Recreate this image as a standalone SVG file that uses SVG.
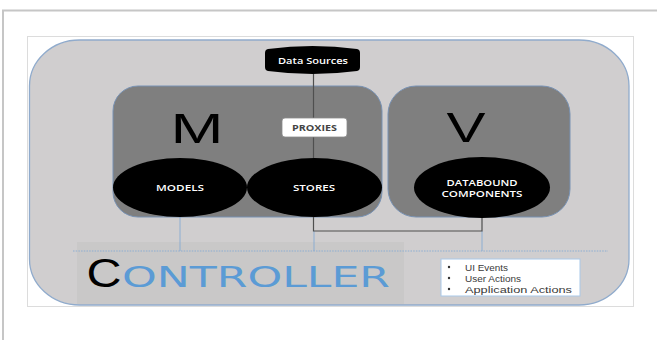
<svg xmlns="http://www.w3.org/2000/svg" width="657" height="340" viewBox="0 0 657 340">
  <style>
    .frame { fill: none; stroke: #c6c6c6; stroke-width: 2; }
    .panel { fill: #7f7f7f; stroke: #7892b4; stroke-width: 1; }
    .blob { fill: #000; }
    .big { font-family: "Liberation Sans", "DejaVu Sans", sans-serif; font-weight: 400; fill: #000; text-anchor: middle; }
    .lbl { font-family: "Open Sans", "Liberation Sans", sans-serif; font-weight: 600; fill: #fff; text-anchor: middle; font-size: 8px; }
    .wire { fill: none; stroke: #4f4f4f; stroke-width: 1.2; }
    .tap { fill: none; stroke: #86aad3; stroke-width: 0.9; }
    .bullet { font-family: "Liberation Sans", "DejaVu Sans", sans-serif; font-size: 9.5px; fill: #3a3a3a; }
  </style>

  <!-- page frame -->
  <rect width="657" height="340" fill="#fff"/>
  <path class="frame" d="M3,340 V10.5 H657"/>

  <!-- picture area -->
  <rect x="27.5" y="36.5" width="606" height="270" fill="#fff" stroke="#dcdcdc" stroke-width="1"/>

  <!-- outer rounded container -->
  <rect id="container" x="29.5" y="40" width="599.5" height="265" rx="50" ry="46" fill="#d0cecf" stroke="#90abcc" stroke-width="1.3"/>

  <!-- controller band -->
  <g id="controller">
    <rect x="77" y="242" width="327" height="62" fill="#c9c8c8"/>
    <text x="104" y="287" class="big" font-size="41" textLength="35" lengthAdjust="spacingAndGlyphs">C</text>
    <text x="122" y="287" font-family="DejaVu Sans, Liberation Sans, sans-serif" font-size="29" fill="#5b9bd5" textLength="268" lengthAdjust="spacingAndGlyphs">ONTROLLER</text>
  </g>

  <!-- connectors -->
  <g id="connectors">
    <path class="tap" d="M180,217 V251 M314,231 V251 M482,231 V251"/>
    <path d="M73,251 H608" fill="none" stroke="#86aad3" stroke-width="0.9" stroke-dasharray="1.5,1.2"/>
  </g>

  <!-- M panel -->
  <g id="m-panel">
    <rect class="panel" x="113" y="86" width="269" height="131" rx="25"/>
    <text x="197" y="143" class="big" font-size="43" textLength="53" lengthAdjust="spacingAndGlyphs">M</text>
  </g>

  <!-- V panel -->
  <g id="v-panel">
    <rect class="panel" x="388" y="86" width="182" height="131" rx="28"/>
    <text x="466" y="142" class="big" font-size="43" textLength="39" lengthAdjust="spacingAndGlyphs">V</text>
  </g>

  <!-- store wiring -->
  <g id="wiring">
    <path class="wire" d="M313.5,72 V231 H482 V217"/>
  </g>

  <g id="models">
    <ellipse class="blob" cx="180" cy="187.5" rx="67" ry="29.5"/>
    <text x="180" y="191" class="lbl" textLength="48" lengthAdjust="spacingAndGlyphs">MODELS</text>
  </g>

  <g id="stores">
    <ellipse class="blob" cx="314.5" cy="187.5" rx="67.5" ry="29.5"/>
    <text x="314" y="191" class="lbl" textLength="42" lengthAdjust="spacingAndGlyphs">STORES</text>
  </g>

  <g id="databound">
    <ellipse class="blob" cx="482" cy="187.5" rx="68" ry="30.5"/>
    <text x="482" y="186" class="lbl" textLength="71" lengthAdjust="spacingAndGlyphs">DATABOUND</text>
    <text x="482" y="197" class="lbl" textLength="81" lengthAdjust="spacingAndGlyphs">COMPONENTS</text>
  </g>

  <g id="proxies">
    <rect x="282" y="118" width="65" height="19" rx="3" fill="#fff" stroke="#8c8c8c" stroke-width="0.8"/>
    <text x="314.5" y="131" font-family="Open Sans, Liberation Sans, sans-serif" font-weight="700" font-size="8" fill="#444" text-anchor="middle" textLength="45" lengthAdjust="spacingAndGlyphs">PROXIES</text>
  </g>

  <g id="data-sources">
    <path d="M268,49 Q312.5,43 357,49 Q360,49.5 360,53 V67 Q360,70.5 357,71 Q312.5,77 268,71 Q265,70.5 265,67 V53 Q265,49.5 268,49 Z" fill="#000"/>
    <text x="313" y="64" class="lbl" font-weight="400" font-size="8.5" textLength="70" lengthAdjust="spacingAndGlyphs">Data Sources</text>
  </g>

  <g id="actions">
    <rect x="441" y="259" width="139" height="37" fill="#fff" stroke="#a9c8e8" stroke-width="1"/>
    <circle cx="449" cy="267" r="1.2" fill="#333"/>
    <circle cx="449" cy="278" r="1.2" fill="#333"/>
    <circle cx="449" cy="289" r="1.2" fill="#333"/>
    <text class="bullet" x="465" y="270.5" textLength="43" lengthAdjust="spacingAndGlyphs">UI  Events</text>
    <text class="bullet" x="465" y="281.5" textLength="56" lengthAdjust="spacingAndGlyphs">User Actions</text>
    <text class="bullet" x="465" y="292.5" textLength="107" lengthAdjust="spacingAndGlyphs">Application Actions</text>
  </g>
</svg>
